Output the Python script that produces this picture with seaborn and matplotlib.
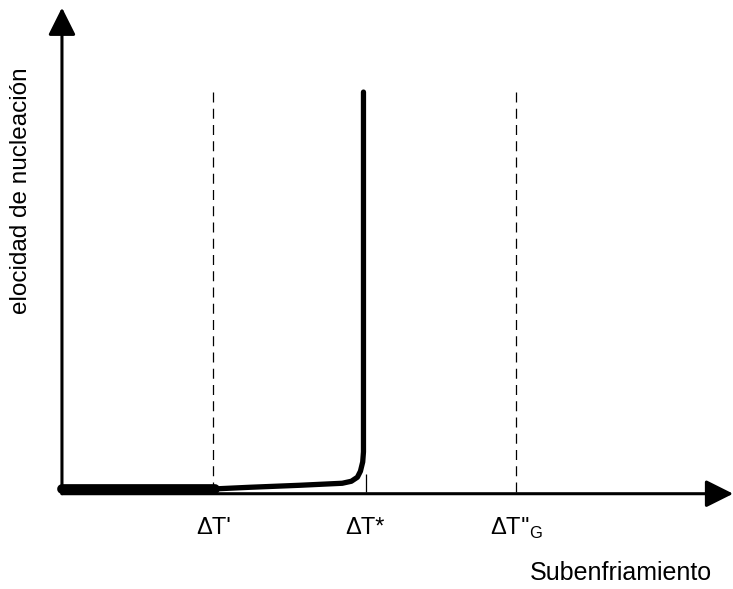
import matplotlib
matplotlib.use("Agg")
import matplotlib.pyplot as plt
import seaborn as sns

sns.set_theme(style="white")
plt.rcParams['font.family'] = ['Liberation Sans', 'DejaVu Sans']

# Curve data (undercooling units: dT' = 1, dT* = 2, dT''G = 3; rate normalised to 1)
flat_x = [0.0, 1.01]
flat_y = [0.008, 0.008]
rise_x = [1.01, 1.24, 1.57, 1.85, 1.91, 1.95, 1.97, 1.985, 1.99, 1.99]
rise_y = [0.008, 0.012, 0.017, 0.022, 0.027, 0.037, 0.052, 0.075, 0.10, 0.995]

# Reference undercoolings
marks = [1.0, 3.0]
marks_labels = ["\u0394T'", "\u0394T*", "\u0394T''$_\\mathregular{G}$"]
marks_pos = [1.0, 2.0, 3.0]

fig = plt.figure(figsize=(7.33, 5.89), dpi=100)
ax = fig.add_axes([0, 0, 1, 1])
ax.set_xlim(-0.409, 4.429)
ax.set_ylim(-0.241, 1.224)
ax.axis('off')

# axes with arrows
arrow = dict(arrowstyle='-|>,head_length=1.4,head_width=0.7', lw=2.2, color='black',
             shrinkA=0, shrinkB=0)
ax.annotate('', xy=(4.43, -0.004), xytext=(0, -0.004), arrowprops=arrow,
            annotation_clip=False)
ax.annotate('', xy=(0, 1.205), xytext=(0, -0.004), arrowprops=arrow,
            annotation_clip=False)

# dashed guides
ax.vlines(marks, 0, 1.01, colors='black', linestyles=(0, (8, 5)), lw=0.9)
ax.vlines([2.01], 0, 0.045, colors='black', lw=0.9)

# curve
sns.lineplot(x=flat_x, y=flat_y, ax=ax, color='black', lw=7, sort=False, estimator=None)
sns.lineplot(x=rise_x, y=rise_y, ax=ax, color='black', lw=3.8, sort=False, estimator=None,
             solid_capstyle='round', solid_joinstyle='round')

for p, lab in zip(marks_pos, marks_labels):
    ax.text(p, -0.09, lab, ha='center', va='center', fontsize=17, color='black')

ax.text(3.69, -0.2, 'Subenfriamiento', ha='center', va='center', fontsize=18, color='black')
ax.text(-0.27, 0.75, 'elocidad de nucleación', rotation=90, ha='center', va='center',
        fontsize=17.5, color='black')

fig.savefig('out.png', dpi=100)
